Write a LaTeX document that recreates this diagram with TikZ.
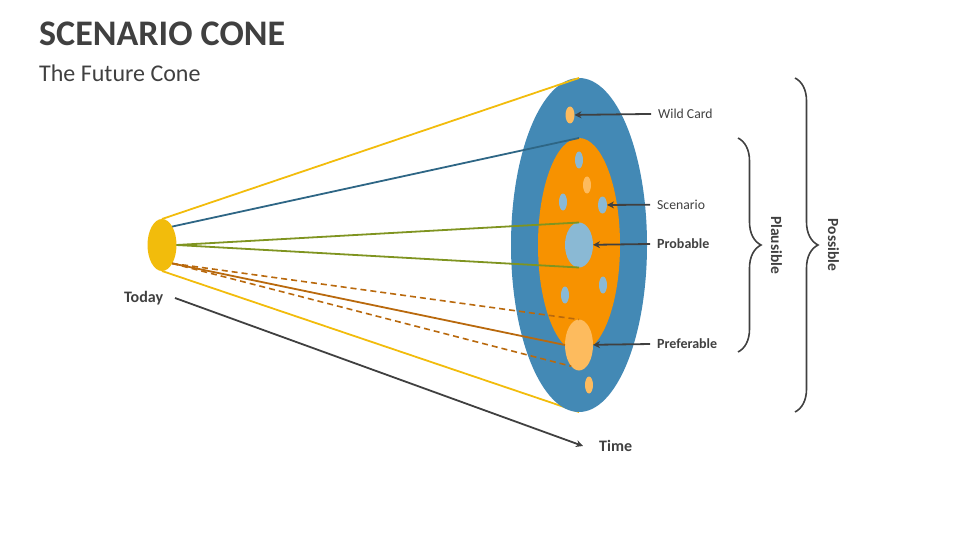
\documentclass[tikz,border=0pt]{standalone}
\usepackage{fontspec}
\setmainfont{Carlito}
\usetikzlibrary{shapes.geometric,decorations.pathreplacing,arrows.meta,backgrounds}
\definecolor{conedark}{HTML}{404040}
\definecolor{coneblue}{HTML}{4389B5}
\definecolor{coneorange}{HTML}{F79200}
\definecolor{coneyellow}{HTML}{F2BC0C}
\definecolor{lightblue}{HTML}{8AB9D4}
\definecolor{lightorange}{HTML}{FDBB5E}
\definecolor{lineblue}{HTML}{2E6685}
\definecolor{linegreen}{HTML}{7F9420}
\definecolor{linebrown}{HTML}{B9690D}
\tikzset{
    oval/.style={ellipse, inner sep=0pt, outer sep=0pt, minimum width=#1},
    callout/.style={font=\fontsize{13.7}{15}\selectfont, text=conedark, inner xsep=7pt, inner ysep=0pt, anchor=west},
    boldcallout/.style={callout, font=\fontsize{14}{15}\selectfont\bfseries},
    plainlabel/.style={anchor=west, inner sep=0pt, text=conedark, font=\fontsize{16}{18}\selectfont\bfseries},
    sidelabel/.style={font=\fontsize{15.5}{18}\selectfont\bfseries, text=conedark, rotate=-90, inner sep=0pt},
    pointer/.style={draw=conedark, line width=1.8pt, -{Stealth[length=7pt,width=7pt]}},
    bracket/.style={draw=conedark, line width=1.6pt, decorate, decoration={brace, amplitude=#1}}
}
\begin{document}
\begin{tikzpicture}[x=1pt, y=-1pt]
        \useasboundingbox (0,0) rectangle (960,540);

        \node[anchor=west, inner sep=0pt, text=conedark, font=\fontsize{36}{40}\selectfont\bfseries] (title) at (39,34) {SCENARIO CONE};
        \node[anchor=west, inner sep=0pt, text=conedark, font=\fontsize{24}{28}\selectfont] (subtitle) at (39,73) {The Future Cone};

        \node[oval=136pt, minimum height=334pt, fill=coneblue] (possible) at (579,245) {};
        \node[oval=82pt, minimum height=214pt, fill=coneorange] (plausible) at (579,245) {};
        \node[oval=29pt, minimum height=52pt, fill=coneyellow] (today) at (162,245) {};

        \begin{scope}[every node/.append style={minimum height=17pt}]
            \node[oval=9pt, fill=lightorange] (W1) at (570,115) {};
            \node[oval=8pt, fill=lightblue] (S1) at (579,160) {};
            \node[oval=8pt, fill=lightorange] (S2) at (587,185) {};
            \node[oval=8pt, fill=lightblue] (S3) at (563,202) {};
            \node[oval=9pt, fill=lightblue] (S4) at (602.5,205) {};
            \node[oval=8pt, fill=lightblue] (S5) at (565,295) {};
            \node[oval=8pt, fill=lightblue] (S6) at (603,285) {};
            \node[oval=8pt, fill=lightorange] (W2) at (589,385) {};
        \end{scope}
        \node[oval=28pt, minimum height=45pt, fill=lightblue] (probable) at (579,245) {};
        \node[oval=28pt, minimum height=51pt, fill=lightorange] (preferable) at (579,345) {};

        \node[callout] (wildtext) at (651,113.5) {Wild Card};
        \node[callout] (scenariotext) at (650,204.5) {Scenario};
        \node[boldcallout] (probabletext) at (650,243.5) {Probable};
        \node[boldcallout] (preferabletext) at (650,343.5) {Preferable};
        \node[plainlabel] (todaytext) at (124,298) {Today};
        \node[plainlabel] (timetext) at (599,446) {Time};
        \node[sidelabel] (plausibletext) at (776.5,245) {Plausible};
        \node[sidelabel] (possibletext) at (833.5,245) {Possible};

        \coordinate (timestart) at (175,298);
        \coordinate (timeend) at (583,446);

        \begin{scope}[every edge/.style={draw=coneyellow, line width=1.8pt}]
            \path [-] (today.north) edge (possible.north);
        \end{scope}
        \begin{scope}[on background layer, every edge/.style={draw=coneyellow, line width=1.8pt}]
            \path [-] (today.south) edge (possible.south);
        \end{scope}

        \begin{scope}[every edge/.style={draw=lineblue, line width=1.8pt}]
            \path [-] (today.61) edge (plausible.north);
        \end{scope}
        \begin{scope}[every edge/.style={draw=linegreen, line width=1.8pt}]
            \path [-] (today.east) edge (probable.north);
            \path [-] (today.east) edge (probable.south);
        \end{scope}
        \begin{scope}[every edge/.style={draw=linebrown, line width=1.8pt}]
            \path [-] (today.-61) edge (preferable.west);
        \end{scope}
        \begin{scope}[every edge/.style={draw=linebrown, line width=1.6pt, dash pattern=on 6pt off 4pt}]
            \path [-] (today.-61) edge (preferable.north);
            \path [-] (today.-61) edge (preferable.-110);
        \end{scope}

        \draw[pointer] (timestart) -- (timeend);
        \draw[pointer] (wildtext) -- (W1);
        \draw[pointer] (scenariotext) -- (S4);
        \draw[pointer] (probabletext) -- (probable);
        \draw[pointer] (preferabletext) -- (preferable);

        \draw[bracket=23pt] (738,138) -- (738,352);
        \draw[bracket=23pt] (795,78) -- (795,412);
\end{tikzpicture}
\end{document}
